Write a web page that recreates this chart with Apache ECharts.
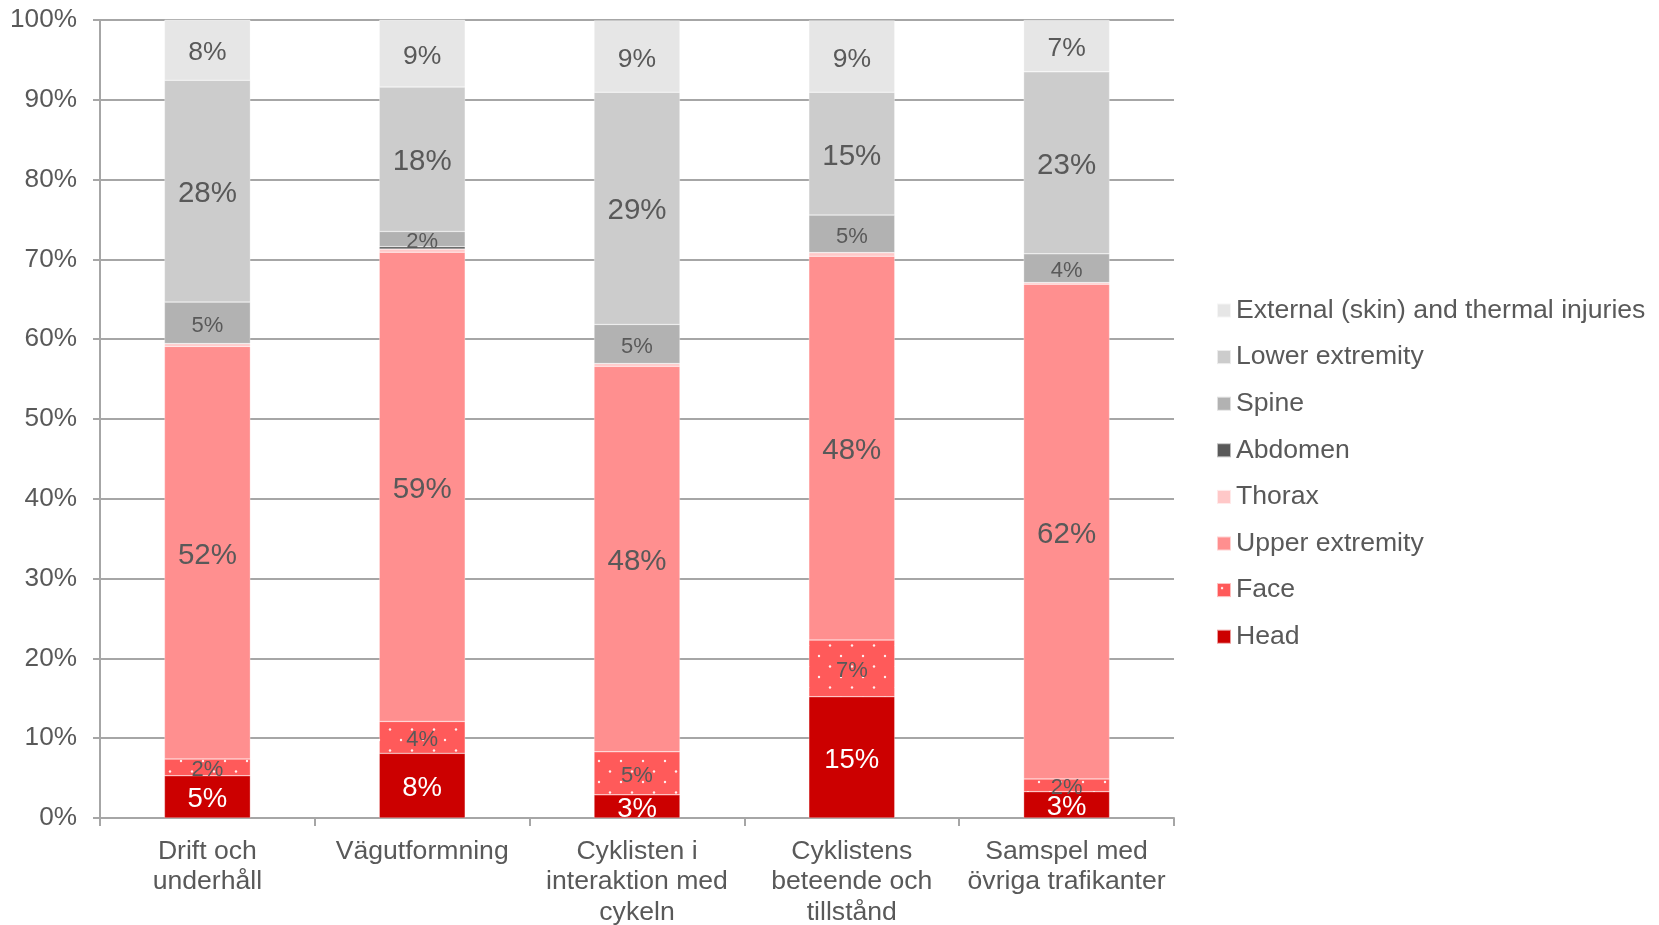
<!DOCTYPE html>
<html>
<head>
<meta charset="utf-8">
<script src="https://cdn.jsdelivr.net/npm/echarts@6/dist/echarts.min.js"></script>
<style>
html,body{margin:0;padding:0;background:#fff;}
#chart{width:1659px;height:925px;}
</style>
</head>
<body>
<div id="chart"></div>
<script>
const categories = ["Drift och\nunderhåll", "Vägutformning", "Cyklisten i\ninteraktion med\ncykeln", "Cyklistens\nbeteende och\ntillstånd", "Samspel med\növriga trafikanter"];
const head     = [5.3, 8.1, 2.9, 15.2, 3.3];
const face     = [2.1, 4.0, 5.4, 7.1, 1.6];
const upper    = [51.7, 58.8, 48.3, 48.1, 62.0];
const thorax   = [0.35, 0.4, 0.35, 0.45, 0.2];
const abdomen  = [0, 0.3, 0, 0, 0];
const spine    = [5.2, 1.9, 4.9, 4.7, 3.6];
const lower    = [27.8, 18.1, 29.1, 15.4, 22.8];
const external = [7.6, 8.5, 9.0, 9.0, 6.5];
const yTicks = [0, 10, 20, 30, 40, 50, 60, 70, 80, 90, 100];

const FONT = "'Liberation Sans', Arial, sans-serif";
const TXT = '#595959';

function dotPattern() {
  const c = document.createElement('canvas');
  c.width = 22; c.height = 21;
  const g = c.getContext('2d');
  g.fillStyle = '#FF5A5A';
  g.fillRect(0, 0, 22, 21);
  g.fillStyle = 'rgba(255,255,255,0.9)';
  g.beginPath(); g.arc(5, 5, 1.2, 0, Math.PI * 2); g.fill();
  g.beginPath(); g.arc(16, 15.5, 1.2, 0, Math.PI * 2); g.fill();
  return c;
}

function mk(name, data, color, labelSize, labelColor, showLabel) {
  return {
    name: name, type: 'bar', stack: 'total', data: data, barWidth: '40%',
    itemStyle: { color: color, borderColor: 'rgba(255,255,255,0.6)', borderWidth: 0.5 },
    label: {
      show: showLabel, position: 'inside', offset: [0, 3], fontFamily: FONT, fontSize: labelSize, color: labelColor,
      formatter: p => p.value >= 1 ? Math.round(p.value) + '%' : ''
    },
    emphasis: { disabled: true }
  };
}

const chart = echarts.init(document.getElementById('chart'), null, { renderer: 'canvas' });
chart.setOption({
  animation: false,
  grid: { left: 100, right: 485, top: 20, bottom: 107, containLabel: false, outerBoundsMode: 'none' },
  legend: {
    orient: 'vertical', left: 1211, top: 292,
    icon: 'rect', itemWidth: 14, itemHeight: 14, itemGap: 19.6,
    textStyle: { fontFamily: FONT, fontSize: 26.6, color: TXT, lineHeight: 25 },
    data: ['External (skin) and thermal injuries', 'Lower extremity', 'Spine', 'Abdomen', 'Thorax', 'Upper extremity', 'Face', 'Head']
  },
  xAxis: {
    type: 'category', data: categories,
    axisLine: { show: true, lineStyle: { color: '#A6A6A6', width: 2 } },
    axisTick: { show: true, length: 8, lineStyle: { color: '#A6A6A6', width: 2 } },
    axisLabel: { fontFamily: FONT, fontSize: 26.6, color: TXT, lineHeight: 30.7, margin: 18, interval: 0 }
  },
  yAxis: {
    type: 'value', min: 0, max: 100, interval: 10,
    axisLine: { show: true, lineStyle: { color: '#A6A6A6', width: 2 } },
    axisTick: { show: true, length: 7, lineStyle: { color: '#A6A6A6', width: 2 } },
    axisLabel: { fontFamily: FONT, fontSize: 26.2, color: TXT, margin: 23,
      formatter: v => yTicks.includes(v) ? v + '%' : '' },
    splitLine: { show: true, lineStyle: { color: '#A6A6A6', width: 2 } }
  },
  series: [
    mk('Head', head, '#CC0000', 27.5, '#FFFFFF', true),
    mk('Face', face, { image: dotPattern(), repeat: 'repeat' }, 22, TXT, true),
    mk('Upper extremity', upper, '#FF8F8F', 29.5, TXT, true),
    mk('Thorax', thorax, '#FFC8C8', 12, TXT, false),
    mk('Abdomen', abdomen, '#595959', 12, TXT, false),
    mk('Spine', spine, '#B2B2B2', 22, TXT, true),
    mk('Lower extremity', lower, '#CCCCCC', 29.5, TXT, true),
    mk('External (skin) and thermal injuries', external, '#E6E6E6', 26.5, TXT, true)
  ]
});
</script>
</body>
</html>
